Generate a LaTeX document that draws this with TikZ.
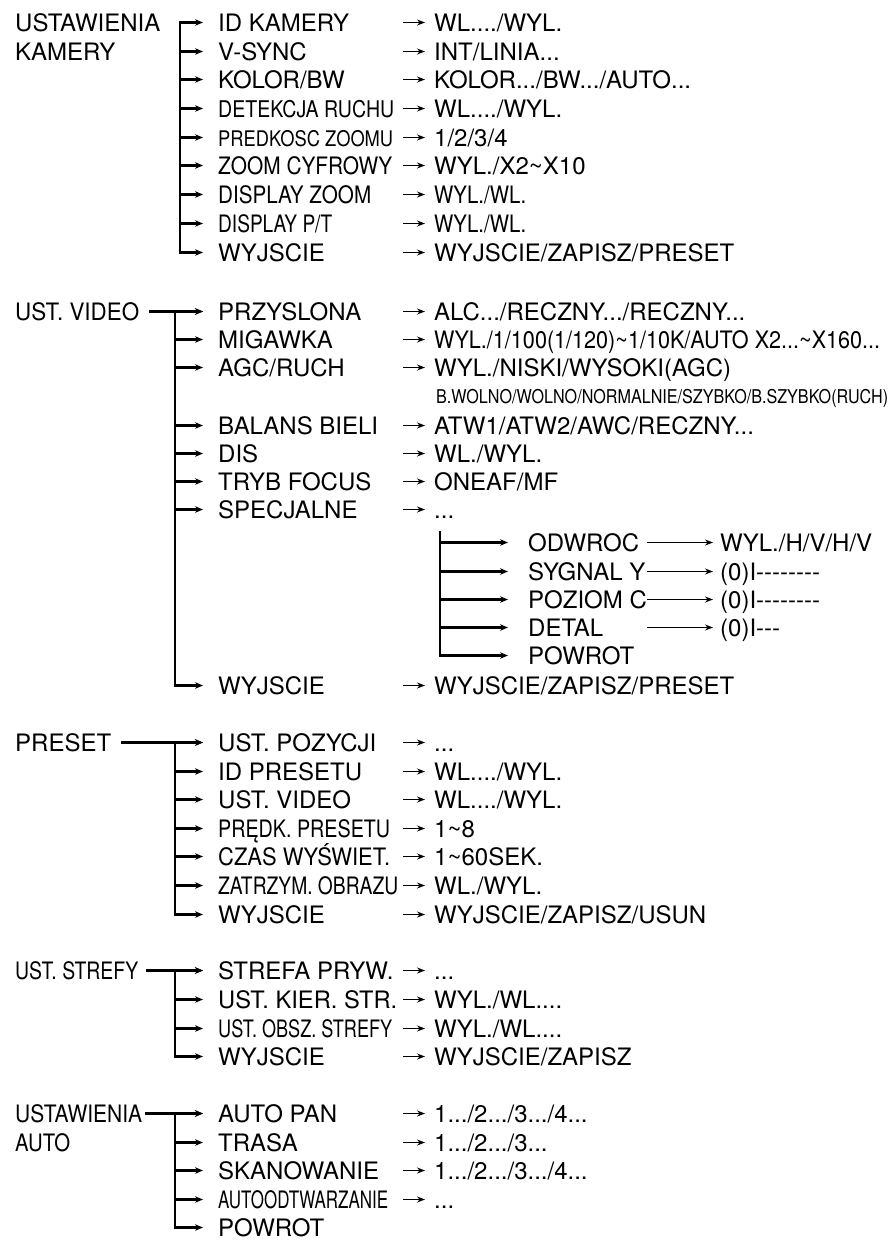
\documentclass[tikz,border=0pt]{standalone}
\usepackage{fontspec}
\setmainfont{TeX Gyre Heros}
\usepackage{graphicx}
\usetikzlibrary{arrows.meta}
\newcommand\sq[2]{\resizebox{#1}{\height}{#2}}
\newcommand\tld{\textasciitilde}
\newcommand\hy{\mbox{-}}

\begin{document}
\begin{tikzpicture}[x=1pt,y=-1pt,
  txt/.style={inner sep=0pt,anchor=base west,text height=17pt,text depth=0pt,
    font=\fontsize{24}{28}\selectfont},
  bar/.style={line width=2.3pt,line cap=rect},
  br/.style={line width=2.3pt,-{Stealth[length=8pt,width=6.5pt]}},
  arr/.style={line width=1.9pt,-{Stealth[length=8pt,width=6pt]}}]
  \useasboundingbox (0,0) rectangle (891,1240);
  \coordinate (b1) at (180,0);
  \coordinate (b2) at (175,0);
  \coordinate (s1) at (403,0);

  % ustawienia kamery
  \node[txt] (k0) at (15,31) {USTAWIENIA};
  \node[txt] (k0b) at (15,60) {KAMERY};
  \foreach \b/\ky/\vl [count=\i] in {
      31/{ID KAMERY}/{WL..../WYL.},
      60/{V-SYNC}/{INT/LINIA...},
      88/{KOLOR/BW}/{KOLOR.../BW.../AUTO...},
      117/{\sq{176pt}{\fontsize{23}{26}\selectfont DETEKCJA RUCHU}}/{WL..../WYL.},
      146/{\sq{175pt}{\fontsize{21.5}{24}\selectfont PREDKOSC ZOOMU}}/{1/2/3/4},
      174/{\sq{174pt}{ZOOM CYFROWY}}/{WYL./X2\tld X10},
      203/{\sq{153pt}{DISPLAY ZOOM}}/{\sq{92pt}{WYL./WL.}},
      232/{\sq{114pt}{DISPLAY P/T}}/{\sq{92pt}{WYL./WL.}},
      261/{WYJSCIE}/{WYJSCIE/ZAPISZ/PRESET}} {
    \node[txt] (k\i) at (218,\b) {\ky};
    \node[txt] (kv\i) at (434,\b) {\vl};
    \draw[br] (k\i.west -| b1) -- ([xshift=-15pt]k\i.west);
    \draw[arr] (kv\i.west -| s1) -- ([xshift=-9pt]kv\i.west);
  }
  \draw[bar] (k1.west -| b1) -- (k9.west -| b1);

  % ust. video
  \node[txt] (v0) at (15,320) {\sq{124pt}{UST. VIDEO}};
  \foreach \b/\ky/\vl [count=\i] in {
      320/{PRZYSLONA}/{ALC.../RECZNY.../RECZNY...},
      348/{MIGAWKA}/{\sq{446pt}{WYL./1/100(1/120)\tld 1/10K/AUTO X2...\tld X160...}},
      376/{AGC/RUCH}/{WYL./NISKI/WYSOKI(AGC)},
      434/{BALANS BIELI}/{ATW1/ATW2/AWC/RECZNY...},
      462/{DIS}/{WL./WYL.},
      490/{TRYB FOCUS}/{ONEAF/MF},
      518/{SPECJALNE}/{...},
      694/{WYJSCIE}/{WYJSCIE/ZAPISZ/PRESET}} {
    \node[txt] (v\i) at (218,\b) {\ky};
    \node[txt] (vv\i) at (434,\b) {\vl};
    \draw[br] (v\i.west -| b2) -- ([xshift=-15pt]v\i.west);
    \draw[arr] (vv\i.west -| s1) -- ([xshift=-9pt]vv\i.west);
  }
  \node[txt] (vb) at (436,403) {\sq{452pt}{\fontsize{19}{22}\selectfont B.WOLNO/WOLNO/NORMALNIE/SZYBKO/B.SZYBKO(RUCH)}};
  \draw[bar] (v1.west -| b2) -- (v8.west -| b2);
  \draw[br] ([xshift=10pt]v0.east) -- ([xshift=-15pt]v1.west);

  % specjalne
  \coordinate (sb) at (440,532);
  \coordinate (t1) at (647,0);
  \foreach \b/\ky/\vl [count=\i] in {
      551/{ODWROC}/{WYL./H/V/H/V},
      580/{SYGNAL Y}/{(0)I\hy\hy\hy\hy\hy\hy\hy\hy},
      608/{POZIOM C}/{(0)I\hy\hy\hy\hy\hy\hy\hy\hy},
      636/{DETAL}/{(0)I\hy\hy\hy}} {
    \node[txt] (sp\i) at (528,\b) {\ky};
    \node[txt] (sv\i) at (720,\b) {\vl};
    \draw[br] (sp\i.west -| sb) -- ([xshift=-20pt]sp\i.west);
    \draw[arr] (sv\i.west -| t1) -- ([xshift=-7pt]sv\i.west);
  }
  \node[txt] (sp5) at (528,664) {POWROT};
  \draw[br] (sp5.west -| sb) -- ([xshift=-20pt]sp5.west);
  \draw[bar] (sb) -- (sp5.west -| sb);

  % preset
  \node[txt] (p0) at (15,751) {PRESET};
  \foreach \b/\ky/\vl [count=\i] in {
      751/{UST. POZYCJI}/{...},
      780/{ID PRESETU}/{WL..../WYL.},
      808/{UST. VIDEO}/{WL..../WYL.},
      837/{\sq{172pt}{PRĘDK. PRESETU}}/{1\tld 8},
      865/{\sq{172pt}{CZAS WYŚWIET.}}/{1\tld 60SEK.},
      894/{\sq{180pt}{ZATRZYM. OBRAZU}}/{WL./WYL.},
      923/{WYJSCIE}/{WYJSCIE/ZAPISZ/USUN}} {
    \node[txt] (p\i) at (218,\b) {\ky};
    \node[txt] (pv\i) at (434,\b) {\vl};
    \draw[br] (p\i.west -| b2) -- ([xshift=-15pt]p\i.west);
    \draw[arr] (pv\i.west -| s1) -- ([xshift=-9pt]pv\i.west);
  }
  \draw[bar] (p1.west -| b2) -- (p7.west -| b2);
  \draw[br] ([xshift=10pt]p0.east) -- ([xshift=-15pt]p1.west);

  % ust. strefy
  \node[txt] (z0) at (15,979) {\sq{123pt}{UST. STREFY}};
  \foreach \b/\ky/\vl [count=\i] in {
      979/{STREFA PRYW.}/{...},
      1008/{\sq{179pt}{UST. KIER. STR.}}/{WYL./WL....},
      1037/{\sq{174pt}{UST. OBSZ. STREFY}}/{WYL./WL....},
      1065/{WYJSCIE}/{WYJSCIE/ZAPISZ}} {
    \node[txt] (z\i) at (218,\b) {\ky};
    \node[txt] (zv\i) at (434,\b) {\vl};
    \draw[br] (z\i.west -| b2) -- ([xshift=-15pt]z\i.west);
    \draw[arr] (zv\i.west -| s1) -- ([xshift=-9pt]zv\i.west);
  }
  \draw[bar] (z1.west -| b2) -- (z4.west -| b2);
  \draw[br] ([xshift=8pt]z0.east) -- ([xshift=-15pt]z1.west);

  % ustawienia auto
  \node[txt] (a0) at (15,1122) {\sq{127pt}{USTAWIENIA}};
  \node[txt] (a0b) at (15,1151) {\sq{55pt}{AUTO}};
  \foreach \b/\ky/\vl [count=\i] in {
      1122/{AUTO PAN}/{1.../2.../3.../4...},
      1151/{TRASA}/{1.../2.../3...},
      1179/{SKANOWANIE}/{1.../2.../3.../4...},
      1208/{\sq{170pt}{AUTOODTWARZANIE}}/{...}} {
    \node[txt] (a\i) at (218,\b) {\ky};
    \node[txt] (av\i) at (434,\b) {\vl};
    \draw[br] (a\i.west -| b2) -- ([xshift=-15pt]a\i.west);
    \draw[arr] (av\i.west -| s1) -- ([xshift=-9pt]av\i.west);
  }
  \node[txt] (a5) at (218,1236) {POWROT};
  \draw[br] (a5.west -| b2) -- ([xshift=-15pt]a5.west);
  \draw[bar] (a1.west -| b2) -- (a5.west -| b2);
  \draw[br] ([xshift=3pt]a0.east) -- ([xshift=-15pt]a1.west);
\end{tikzpicture}
\end{document}
